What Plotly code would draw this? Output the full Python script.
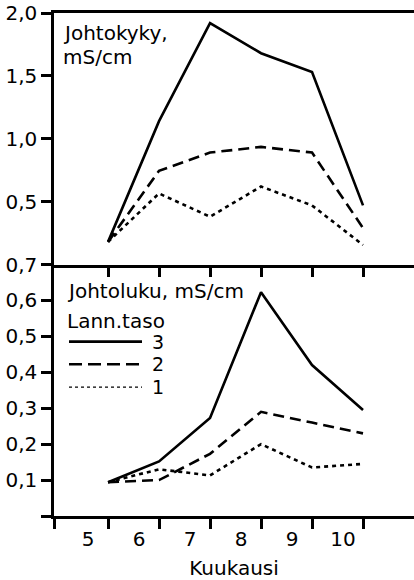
import plotly.graph_objects as go

# Data
sample_month = [5.5, 6.5, 7.5, 8.5, 9.5, 10.5]   # measurement positions (end of month)
month_labels = ["5", "6", "7", "8", "9", "10"]

# Upper panel: Johtokyky, mS/cm
kyky_3 = [0.18, 1.14, 1.92, 1.68, 1.53, 0.47]
kyky_2 = [0.18, 0.745, 0.89, 0.935, 0.89, 0.29]
kyky_1 = [0.18, 0.565, 0.38, 0.62, 0.47, 0.155]

# Lower panel: Johtoluku, mS/cm
luku_3 = [0.094, 0.152, 0.273, 0.623, 0.42, 0.295]
luku_2 = [0.094, 0.10, 0.173, 0.29, 0.26, 0.23]
luku_1 = [0.094, 0.13, 0.113, 0.20, 0.135, 0.145]

levels = ["3", "2", "1"]

upper_ticks = [0.5, 1.0, 1.5, 2.0]
upper_ticktext = ["0,5", "1,0", "1,5", "2,0"]
lower_ticks = [0, 0.1, 0.2, 0.3, 0.4, 0.5, 0.6, 0.7]
lower_ticktext = ["", "0,1", "0,2", "0,3", "0,4", "0,5", "0,6", "0,7"]

FONT = "DejaVu Sans"
styles = {"3": dict(dash="solid", width=2.6),
          "2": dict(dash="11px,6px", width=2.6),
          "1": dict(dash="4px,4px", width=2.6)}

fig = go.Figure()
for lev, ys in zip(levels, [kyky_3, kyky_2, kyky_1]):
    fig.add_trace(go.Scatter(x=sample_month, y=ys, mode="lines", xaxis="x2", yaxis="y2",
                             line=dict(color="black", **styles[lev]), showlegend=False))
for lev, ys in zip(levels, [luku_3, luku_2, luku_1]):
    fig.add_trace(go.Scatter(x=sample_month, y=ys, mode="lines", xaxis="x", yaxis="y",
                             line=dict(color="black", **styles[lev]), showlegend=False))

XR = [4.44, 11.5]
axis_common = dict(showgrid=False, zeroline=False, showline=True, linecolor="black",
                   linewidth=2.5, ticks="outside", ticklen=10, tickwidth=2.5, tickcolor="#000000",
                   tickfont=dict(family=FONT, size=20, color="black"))

fig.update_layout(
    width=414, height=580,
    margin=dict(l=54, r=0, t=12.5, b=58.5),
    paper_bgcolor="white", plot_bgcolor="white",
    font=dict(family=FONT, size=20, color="black"),
    showlegend=False,
    xaxis=dict(**axis_common, domain=[0, 1], range=XR, anchor="y",
               tickmode="array", tickvals=[XR[0]] + sample_month, ticktext=[""] + month_labels,
               ticklabelshift=-20, ticklabelstandoff=-7,
               title=dict(text="Kuukausi", font=dict(family=FONT, size=20), standoff=15)),
    xaxis2=dict(**axis_common, domain=[0, 1], range=XR, anchor="y2", mirror=True,
                tickmode="array", tickvals=sample_month, showticklabels=False),
    yaxis=dict(**axis_common, domain=[0, 0.5], range=[0, 0.7], anchor="x",
               tickmode="array", tickvals=lower_ticks, ticktext=lower_ticktext),
    yaxis2=dict(**axis_common, domain=[0.5, 1], range=[0, 2.0], anchor="x2",
                tickmode="array", tickvals=upper_ticks, ticktext=upper_ticktext),
)

def txt(x, y, s, size=20):
    fig.add_annotation(xref="paper", yref="paper", x=x, y=y, text=s, showarrow=False,
                       xanchor="left", yanchor="middle",
                       font=dict(family=FONT, size=size, color="black"))

def px(xp):
    return (xp - 54) / 360.0

def py(yp):
    return (521.5 - yp) / 509.0

txt(px(61), py(33), "Johtokyky,")
txt(px(61), py(57), "mS/cm")
txt(px(65), py(294), "Johtoluku, mS/cm")
txt(px(65), py(324), "Lann.taso")

# Legend keys
legend_y = {"3": 345, "2": 368, "1": 391}
legend_style = {"3": dict(dash="solid", width=2.6),
                "2": dict(dash="13px,6px", width=2.6),
                "1": dict(dash="3px,3px", width=1.2)}
for lev in levels:
    fig.add_shape(type="line", xref="paper", yref="paper",
                  x0=px(69), x1=px(142), y0=py(legend_y[lev]), y1=py(legend_y[lev]),
                  line=dict(color="black", **legend_style[lev]))
    txt(px(150), py(legend_y[lev]), lev, size=19)

fig.write_html("out.html")
